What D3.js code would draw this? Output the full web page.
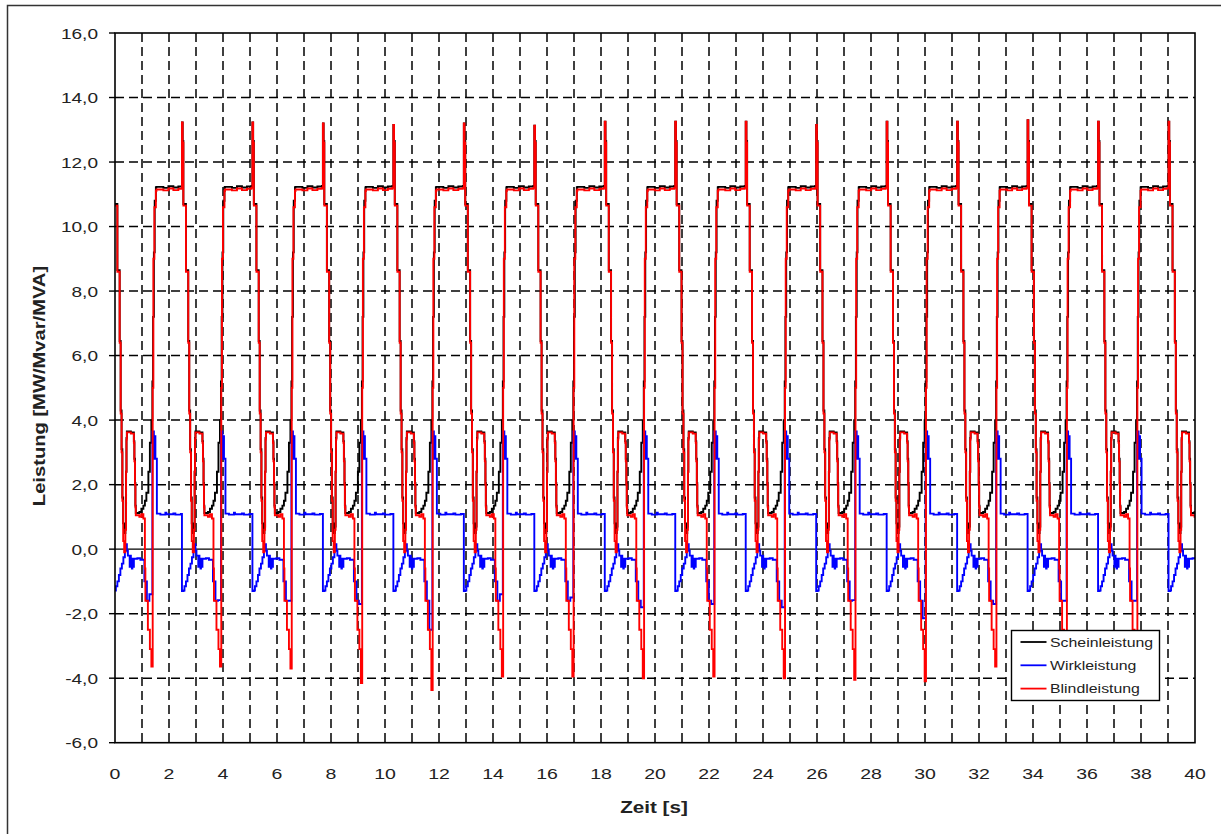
<!DOCTYPE html>
<html>
<head>
<meta charset="utf-8">
<title>Leistung</title>
<script src="https://d3js.org/d3.v7.min.js"></script>
<style>
    body { margin: 0; background: #fff; }
    svg text { font-family: "Liberation Sans", Arial, sans-serif; fill: #222; }
</style>
</head>
<body>
<svg id="chart" width="1221" height="834"></svg>
<script>
"use strict";

// start of every cycle = time of the Blindleistung spike [s]
var spikeTimes = [-0.06, 2.48, 5.09, 7.70, 10.31, 12.92, 15.53, 18.14, 20.75, 23.36, 25.97, 28.58, 31.19, 33.80, 36.41, 39.02];
// height of the spike in each cycle
var spikePeaks = [13.2, 13.23, 13.23, 13.2, 13.15, 13.2, 13.13, 13.25, 13.25, 13.25, 13.15, 13.25, 13.25, 13.3, 13.25, 13.25];
// lowest Blindleistung at the end of each cycle
var blindDips = [-3.64, -3.64, -3.7, -4.15, -4.37, -3.95, -3.95, -4.0, -3.95, -4.0, -4.05, -4.1, -3.64, -4.0, -4.0, -4.0];
// lowest Wirkleistung at the end of each cycle
var wirkDips = [-1.4, -1.58, -1.6, -1.7, -2.5, -1.4, -1.5, -1.8, -1.7, -1.8, -1.58, -2.14, -1.7, -1.6, -1.6, -1.6];

// shape of one cycle: [seconds after spike, value] ('peak' / 'dip' = per cycle value above)
var blindShape = [
    [0, 'peak'], [0.026, 12.6], [0.052, 10.65], [0.148, 8.6], [0.233, 6.4], [0.270, 4.2],
    [0.304, 3.0], [0.333, 1.5], [0.363, 0.25], [0.400, -0.1], [0.444, 0.6], [0.470, 2.4],
    [0.485, 3.4], [0.500, 3.62], [0.648, 3.58], [0.759, 3.3], [0.778, 2.72], [0.800, 2.0],
    [0.815, 1.3], [0.830, 1.05], [0.963, 1.0], [1.037, 1.08], [1.111, 0.95], [1.167, -0.6],
    [1.185, -1.6], [1.278, -2.5], [1.352, -3.1], [1.407, 'dip'], [1.456, 5.0], [1.481, 9.0],
    [1.519, 10.6], [1.574, 11.1], [1.593, 11.15], [1.852, 11.12], [2.037, 11.18], [2.222, 11.13],
    [2.407, 11.17], [2.574, 11.2]
];
var wirkShape = [
    [0, -1.3], [0.056, -1.28], [0.093, -1.15], [0.148, -1.0], [0.204, -0.8], [0.259, -0.6],
    [0.315, -0.45], [0.370, -0.25], [0.426, -0.05], [0.474, 0.15], [0.500, -0.05], [0.537, -0.2],
    [0.604, -0.55], [0.622, -0.2], [0.648, -0.3], [0.685, -0.6], [0.704, -0.3], [0.741, -0.55],
    [0.759, -0.3], [0.889, -0.28], [1.000, -0.33], [1.148, -1.0], [1.241, -1.6], [1.333, 'dip'],
    [1.444, 3.65], [1.500, 2.8], [1.526, 3.5], [1.556, 2.8], [1.611, 1.1], [1.741, 1.07],
    [1.926, 1.13], [1.963, 1.08], [2.222, 1.11], [2.296, 1.07], [2.500, 1.09]
];
var scheinShape = [
    [0, 'peak'], [0.026, 12.65], [0.052, 10.7], [0.148, 8.65], [0.233, 6.45], [0.270, 4.3],
    [0.304, 3.1], [0.333, 1.6], [0.363, 0.8], [0.400, 0.5], [0.444, 0.7], [0.470, 2.4],
    [0.485, 3.45], [0.500, 3.65], [0.648, 3.62], [0.759, 3.35], [0.778, 2.8], [0.800, 2.05],
    [0.815, 1.35], [0.830, 1.12], [0.963, 1.15], [1.037, 1.25], [1.111, 1.35], [1.167, 1.5],
    [1.222, 1.75], [1.296, 2.4], [1.352, 3.3], [1.407, 4.0], [1.444, 5.2], [1.470, 7.2],
    [1.500, 9.2], [1.530, 10.8], [1.574, 11.21], [1.593, 11.23], [1.852, 11.2], [2.037, 11.25],
    [2.222, 11.21], [2.407, 11.24], [2.574, 11.26]
];

var seriesNames = ['Scheinleistung', 'Wirkleistung', 'Blindleistung'];
var seriesColors = ['#000000', '#0000ff', '#ff0000'];

var xTicks = d3.range(0, 41, 2);
var yTicks = d3.range(-6, 17, 2);
var tMax = 40;

// geometry
var plot = { left: 115, right: 1195, top: 33, bottom: 742.7 };

var svg = d3.select('#chart');

var x = d3.scaleLinear().domain([0, tMax]).range([plot.left, plot.right]);
var y = d3.scaleLinear().domain([-6, 16]).range([plot.bottom, plot.top]);

// glue the cycle shapes together into one series
function buildSeries(shape, dips) {
    var pts = [];
    spikeTimes.forEach(function(t0, i) {
        var len = i < spikeTimes.length - 1 ? spikeTimes[i + 1] - t0 : Infinity;
        shape.forEach(function(p) {
            if (p[0] >= len) return;
            var v = p[1];
            if (v === 'peak') v = spikePeaks[i];
            else if (v === 'dip') v = dips[i];
            pts.push({ t: t0 + p[0], v: v });
        });
    });
    // cut to 0..40 s
    var first = 0;
    pts.forEach(function(d, i) { if (d.t <= 0) first = i; });
    pts = pts.slice(first);
    pts[0] = { t: 0, v: pts[0].v };
    pts = pts.filter(function(d) { return d.t < tMax; });
    pts.push({ t: tMax, v: pts[pts.length - 1].v });
    return pts;
}

var series = [
    buildSeries(scheinShape, blindDips),
    buildSeries(wirkShape, wirkDips),
    buildSeries(blindShape, blindDips)
];

// outer chart frame
svg.append('rect')
    .attr('x', 7.5).attr('y', 5.5)
    .attr('width', 1240).attr('height', 850)
    .attr('fill', 'none').attr('stroke', '#333').attr('stroke-width', 1.5);

// grid
var grid = svg.append('g').attr('stroke', '#000').attr('stroke-width', 1.5).attr('stroke-dasharray', '9,5');
grid.selectAll('line.v')
    .data(d3.range(1, tMax))
    .enter().append('line')
    .attr('class', 'v')
    .attr('x1', function(d) { return x(d); }).attr('x2', function(d) { return x(d); })
    .attr('y1', plot.top).attr('y2', plot.bottom);
grid.selectAll('line.h')
    .data(yTicks.filter(function(d) { return d !== 0 && d > -6 && d < 16; }))
    .enter().append('line')
    .attr('class', 'h')
    .attr('x1', plot.left).attr('x2', plot.right)
    .attr('y1', function(d) { return y(d); }).attr('y2', function(d) { return y(d); });

// zero line
svg.append('line')
    .attr('x1', plot.left).attr('x2', plot.right)
    .attr('y1', y(0)).attr('y2', y(0))
    .attr('stroke', '#000').attr('stroke-width', 1.3);

// series
svg.append('clipPath').attr('id', 'clip')
    .append('rect')
    .attr('x', plot.left).attr('y', plot.top)
    .attr('width', plot.right - plot.left).attr('height', plot.bottom - plot.top);

var line = d3.line()
    .x(function(d) { return x(d.t); })
    .y(function(d) { return y(d.v); })
    .curve(d3.curveStepAfter);

svg.append('g').attr('clip-path', 'url(#clip)')
    .selectAll('path')
    .data(series)
    .enter().append('path')
    .attr('d', line)
    .attr('fill', 'none')
    .attr('stroke', function(d, i) { return seriesColors[i]; })
    .attr('stroke-width', 1.9)
    .attr('stroke-linejoin', 'miter');

// plot border
svg.append('rect')
    .attr('x', plot.left).attr('y', plot.top)
    .attr('width', plot.right - plot.left).attr('height', plot.bottom - plot.top)
    .attr('fill', 'none').attr('stroke', '#000').attr('stroke-width', 1.6);

// y axis ticks and labels
var yAxis = svg.append('g');
yAxis.selectAll('line')
    .data(yTicks)
    .enter().append('line')
    .attr('x1', plot.left - 6).attr('x2', plot.left)
    .attr('y1', function(d) { return y(d); }).attr('y2', function(d) { return y(d); })
    .attr('stroke', '#000').attr('stroke-width', 1.4);
yAxis.selectAll('text')
    .data(yTicks)
    .enter().append('text')
    .attr('transform', function(d) { return 'translate(98,' + (y(d) + 5.5) + ') scale(1.27,1)'; })
    .attr('text-anchor', 'end')
    .style('font-size', '15px')
    .text(function(d) { return d.toFixed(1).replace('.', ','); });

// x axis labels
svg.append('g').selectAll('text')
    .data(xTicks)
    .enter().append('text')
    .attr('transform', function(d) { return 'translate(' + x(d) + ',779) scale(1.3,1)'; })
    .attr('text-anchor', 'middle')
    .style('font-size', '15px')
    .text(function(d) { return d; });

// axis titles
svg.append('text')
    .attr('transform', 'translate(654,812.5) scale(1.29,1)')
    .attr('text-anchor', 'middle')
    .style('font-size', '16px').style('font-weight', 'bold')
    .text('Zeit [s]');
svg.append('text')
    .attr('transform', 'translate(44.5,386) rotate(-90) scale(1.26,1)')
    .attr('text-anchor', 'middle')
    .style('font-size', '16px').style('font-weight', 'bold')
    .text('Leistung [MW/Mvar/MVA]');

// legend
var legend = svg.append('g').attr('transform', 'translate(1011.5,630.5)');
legend.append('rect')
    .attr('width', 148).attr('height', 70)
    .attr('fill', '#fff').attr('stroke', '#000').attr('stroke-width', 1.4);
var item = legend.selectAll('g.item')
    .data(seriesNames)
    .enter().append('g')
    .attr('class', 'item')
    .attr('transform', function(d, i) { return 'translate(0,' + (11.5 + i * 23.3) + ')'; });
item.append('line')
    .attr('x1', 9).attr('x2', 35)
    .attr('stroke', function(d, i) { return seriesColors[i]; })
    .attr('stroke-width', 1.8);
item.append('text')
    .attr('transform', 'translate(38.5,4.5) scale(1.22,1)')
    .style('font-size', '13px')
    .text(function(d) { return d; });
</script>
</body>
</html>
